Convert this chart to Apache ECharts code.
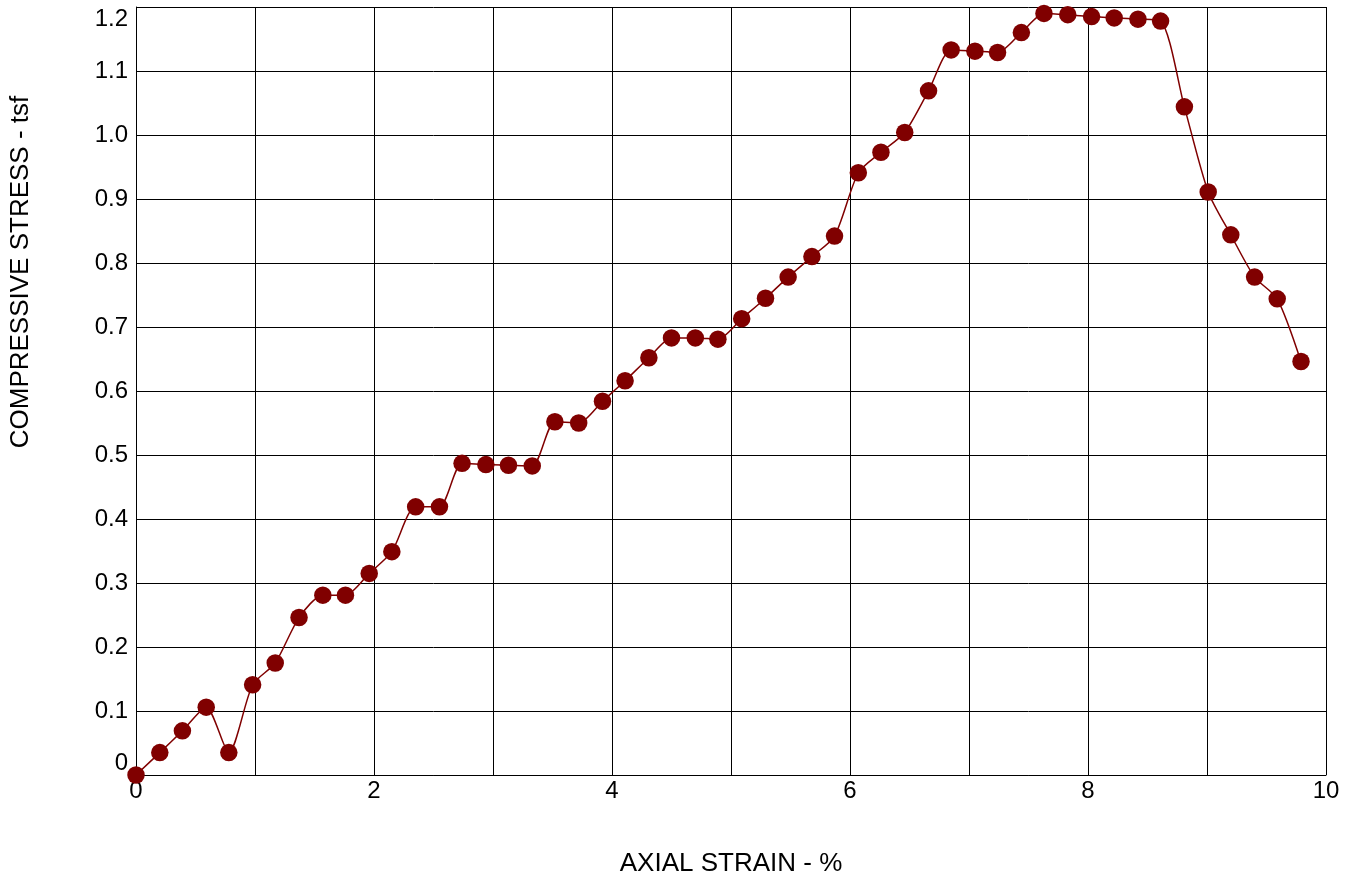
<!DOCTYPE html>
<html>
<head>
<meta charset="utf-8">
<title>Unconfined compression test</title>
<script src="https://cdn.jsdelivr.net/npm/echarts@6/dist/echarts.min.js"></script>
<style>
  html, body { margin: 0; padding: 0; background: #ffffff; }
  #chart { width: 1353px; height: 878px; }
</style>
</head>
<body>
<div id="chart"></div>
<script>
// Axial strain (%) for each reading
const strainPct = [
  0, 0.20, 0.39, 0.59, 0.78, 0.98, 1.17, 1.37, 1.57, 1.76,
  1.96, 2.15, 2.35, 2.55, 2.74, 2.94, 3.13, 3.33, 3.52, 3.72,
  3.92, 4.11, 4.31, 4.50, 4.70, 4.89, 5.09, 5.29, 5.48, 5.68,
  5.87, 6.07, 6.26, 6.46, 6.66, 6.85, 7.05, 7.24, 7.44, 7.63,
  7.83, 8.03, 8.22, 8.42, 8.61, 8.81, 9.01, 9.20, 9.40, 9.59,
  9.79
];

// Compressive stress (tsf) at each reading
const stressTsf = [
  0.000, 0.035, 0.069, 0.106, 0.035, 0.141, 0.175, 0.246, 0.281, 0.281,
  0.315, 0.349, 0.419, 0.419, 0.487, 0.485, 0.484, 0.483, 0.552, 0.550,
  0.584, 0.616, 0.652, 0.683, 0.683, 0.681, 0.713, 0.745, 0.778, 0.810,
  0.842, 0.941, 0.973, 1.004, 1.069, 1.133, 1.131, 1.129, 1.160, 1.190,
  1.188, 1.185, 1.183, 1.181, 1.178, 1.044, 0.911, 0.844, 0.778, 0.744,
  0.646
];

const xTitle = 'AXIAL STRAIN - %';
const yTitle = 'COMPRESSIVE STRESS - tsf';

const points = strainPct.map((x, i) => [x, stressTsf[i]]);

const FONT = '"Liberation Sans", Arial, sans-serif';
const INK = '#000000';
const CURVE = '#800000';

const chart = echarts.init(document.getElementById('chart'), null, { renderer: 'canvas' });

chart.setOption({
  backgroundColor: '#ffffff',
  animation: false,
  grid: {
    left: 136, right: 27, top: 7, bottom: 103,
    containLabel: false,
    outerBoundsMode: 'none'
  },
  xAxis: {
    type: 'value',
    min: 0,
    max: 10,
    interval: 1,
    name: xTitle,
    nameLocation: 'middle',
    nameGap: 76,
    nameTextStyle: { color: INK, fontFamily: FONT, fontSize: 26 },
    axisLine: { show: true, lineStyle: { color: INK, width: 1 } },
    axisTick: { show: false },
    axisLabel: {
      color: INK, fontFamily: FONT, fontSize: 24, margin: 4,
      formatter: v => (Math.round(v) % 2 === 0 ? String(Math.round(v)) : '')
    },
    splitLine: { show: true, lineStyle: { color: INK, width: 1 } }
  },
  yAxis: {
    type: 'value',
    min: 0,
    max: 1.2,
    interval: 0.1,
    name: yTitle,
    nameLocation: 'middle',
    nameGap: 102,
    // title sits above the vertical middle of the plot
    nameTextStyle: { color: INK, fontFamily: FONT, fontSize: 26, padding: [0, 0, 0, 238] },
    axisLine: { show: true, lineStyle: { color: INK, width: 1 } },
    axisTick: { show: false },
    axisLabel: {
      color: INK, fontFamily: FONT, fontSize: 24, margin: 8,
      verticalAlignMinLabel: 'bottom',
      verticalAlignMaxLabel: 'top',
      formatter: v => (Math.abs(v) < 1e-9 ? '0' : v.toFixed(1))
    },
    splitLine: { show: true, lineStyle: { color: INK, width: 1 } }
  },
  series: [{
    type: 'line',
    data: points,
    smooth: 0.25,
    clip: false,
    symbol: 'circle',
    symbolSize: 17.5,
    showAllSymbol: true,
    lineStyle: { color: CURVE, width: 1.5 },
    itemStyle: { color: CURVE, borderWidth: 0 }
  }]
});
</script>
</body>
</html>
